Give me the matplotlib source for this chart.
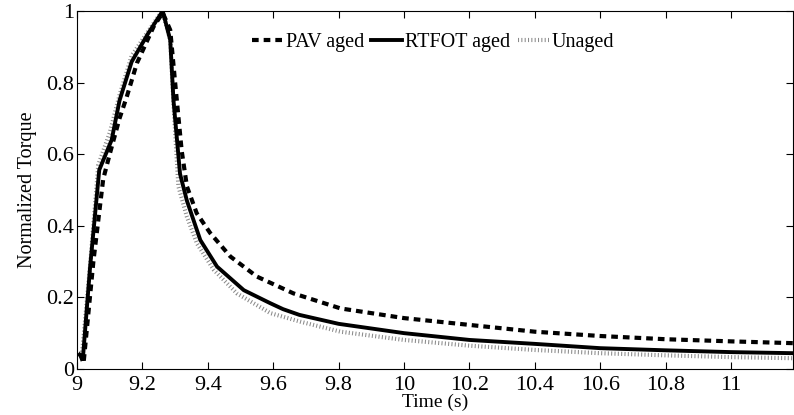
import numpy as np
import matplotlib.pyplot as plt
plt.rcParams.update({'font.family': 'Liberation Serif', 'font.size': 16})

# PAV aged
pav_t = [9.01, 9.02, 9.05, 9.08, 9.10, 9.13, 9.152, 9.183, 9.234, 9.262, 9.285, 9.30, 9.32,
         9.336, 9.366, 9.407, 9.469, 9.55, 9.662, 9.806, 10.0, 10.2, 10.4, 10.6, 10.8, 11.0, 11.19]
pav_y = [0.04, 0.016, 0.30, 0.53, 0.60, 0.70, 0.76, 0.854, 0.956, 0.995, 0.947, 0.80, 0.61,
         0.51, 0.435, 0.38, 0.314, 0.258, 0.211, 0.169, 0.142, 0.123, 0.104, 0.092, 0.083, 0.077, 0.072]

# RTFOT aged
rtf_t = [9.008, 9.018, 9.04, 9.068, 9.106, 9.13, 9.167, 9.218, 9.262, 9.285, 9.295, 9.315, 9.336,
         9.377, 9.428, 9.51, 9.59, 9.63, 9.68, 9.80, 10.0, 10.2, 10.4, 10.6, 10.8, 11.0, 11.19]
rtf_y = [0.04, 0.03, 0.285, 0.556, 0.64, 0.75, 0.858, 0.938, 1.0, 0.919, 0.75, 0.545, 0.47,
         0.36, 0.286, 0.22, 0.184, 0.167, 0.151, 0.126, 0.10, 0.081, 0.07, 0.058, 0.052, 0.047, 0.044]

# Unaged
una_t = [9.005, 9.015, 9.04, 9.065, 9.10, 9.13, 9.167, 9.215, 9.26, 9.285, 9.295, 9.31, 9.336,
         9.367, 9.418, 9.489, 9.591, 9.683, 9.806, 10.0, 10.2, 10.4, 10.6, 10.8, 11.0, 11.19]
una_y = [0.045, 0.04, 0.29, 0.57, 0.66, 0.765, 0.875, 0.94, 1.0, 0.92, 0.74, 0.51, 0.425,
         0.35, 0.277, 0.211, 0.156, 0.132, 0.104, 0.081, 0.065, 0.053, 0.044, 0.038, 0.033, 0.030]

xticks = [9, 9.2, 9.4, 9.6, 9.8, 10, 10.2, 10.4, 10.6, 10.8, 11]
xticklabels = ['9', '9.2', '9.4', '9.6', '9.8', '10', '10.2', '10.4', '10.6', '10.8', '11']
yticks = [0, 0.2, 0.4, 0.6, 0.8, 1]
yticklabels = ['0', '0.2', '0.4', '0.6', '0.8', '1']

fig = plt.figure(figsize=(7.94, 4.15), dpi=100)
ax = fig.add_axes([0.097, 0.111, 0.902, 0.8625])

l3, = ax.plot(una_t, una_y, color='#8a8a8a', lw=3, dashes=(0.25, 0.55), label='Unaged', zorder=1)
l2, = ax.plot(rtf_t, rtf_y, color='black', lw=2.8, label='RTFOT aged', zorder=2)
l1, = ax.plot(pav_t, pav_y, color='black', lw=3, dashes=(1.6, 1.2), label='PAV aged', zorder=3)

ax.set_xlim(9, 11.19)
ax.set_ylim(0, 1)
ax.set_xticks(xticks)
ax.set_xticklabels(xticklabels)
ax.set_yticks(yticks)
ax.set_yticklabels(yticklabels)
ax.tick_params(direction='in', top=True, right=True, length=5)
ax.tick_params(axis='x', pad=5)
ax.tick_params(axis='y', pad=2)
ax.set_xlabel('Time (s)', fontsize=14, labelpad=-1)
ax.set_ylabel('Normalized Torque', fontsize=14.5, labelpad=7)

ax.legend(handles=[l1, l2, l3], loc='center', bbox_to_anchor=(0.497, 0.913), ncol=3,
          frameon=False, handlelength=1.55, handletextpad=0.15, columnspacing=0.35,
          fontsize=14.5)

plt.savefig('out.png', dpi=100)
